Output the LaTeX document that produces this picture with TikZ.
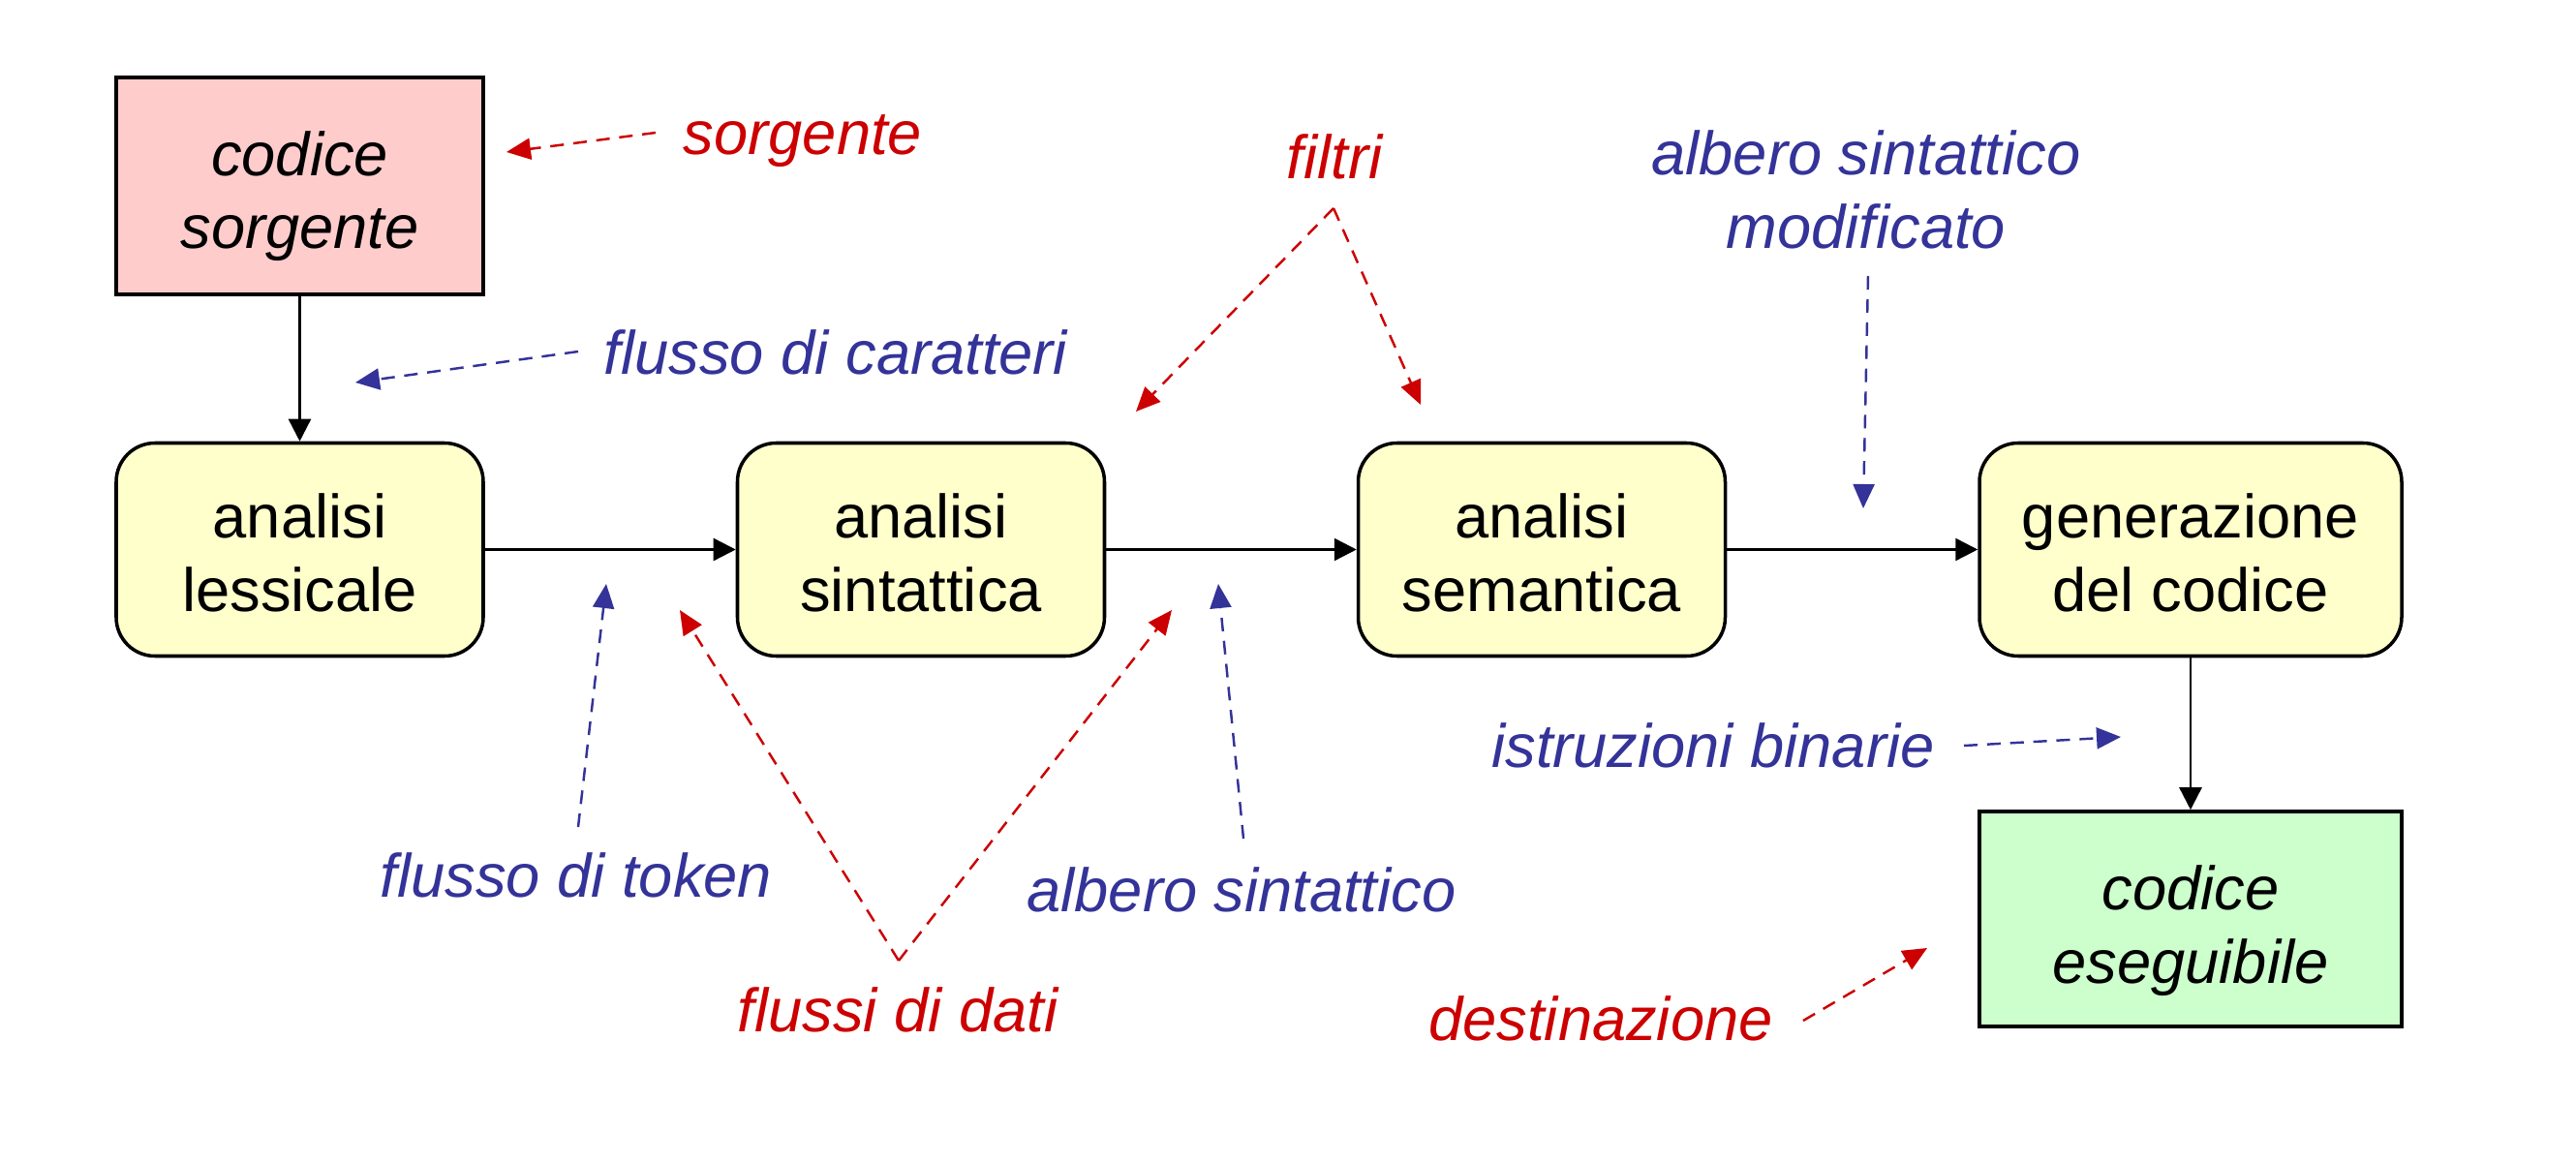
\documentclass[tikz,border=0pt]{standalone}
\usepackage{fontspec}
\setmainfont{Liberation Sans}
\usetikzlibrary{arrows.meta}
\definecolor{rosa}{HTML}{FFCCCC}
\definecolor{giallo}{HTML}{FFFFCC}
\definecolor{verde}{HTML}{CCFFCC}
\definecolor{rosso}{HTML}{CC0000}
\definecolor{blu}{HTML}{333399}
\newcommand\riga[1]{\rule{0pt}{#1pt}}
\begin{document}
\begin{tikzpicture}[
	up/.style={font=\fontsize{18}{21.5}\selectfont},
	it/.style={font=\fontsize{18}{21.5}\selectfont\itshape},
	blk/.style={draw, line width=1pt, minimum width=3.79cm, minimum height=2.2cm, align=center, up},
	fase/.style={blk, rounded corners=0.4cm, fill=giallo},
	file/.style={blk, it},
	flow/.style={line width=0.7pt, -{Triangle[length=0.23cm,width=0.23cm]}},
	rnota/.style={it, text=rosso, anchor=base},
	bnota/.style={it, text=blu, anchor=base},
	rfreccia/.style={rosso, line width=0.7pt, dash pattern=on 4pt off 2.8pt, -{Triangle[length=0.25cm,width=0.22cm]}},
	bfreccia/.style={rfreccia, blu}]
	\useasboundingbox (0,0) rectangle (26.6,12);
	% blocchi
	\node[file, fill=rosa, minimum height=2.24cm] (src) at (3.095,10.08) {\riga{19}codice\\sorgente};
	\node[fase] (lex) at (3.095,6.325) {\riga{15}analisi\\lessicale};
	\node[fase] (syn) at (9.51,6.325) {\riga{15}analisi\\sintattica};
	\node[fase] (sem) at (15.92,6.325) {\riga{15}analisi\\semantica};
	\node[fase, minimum width=4.36cm] (gen) at (22.62,6.325) {\riga{15}generazione\\del codice};
	\node[file, fill=verde, minimum width=4.36cm, minimum height=2.22cm] (exe) at (22.62,2.51) {\riga{20}codice\\eseguibile};
	\draw[flow] (src) -- (lex);
	\draw[flow] (lex) -- (syn);
	\draw[flow] (syn) -- (sem);
	\draw[flow] (sem) -- (gen);
	\draw[flow] (gen) -- (exe);
	% note
	\node[rnota] (sorg) at (8.29,10.40) {sorgente};
	\node[bnota] (car) at (8.63,8.13) {flusso di caratteri};
	\node[rnota] (filtri) at (13.78,10.15) {filtri};
	\node[it, text=blu, align=center] (mod) at (19.27,10.04) {albero sintattico\\modificato};
	\node[bnota] (tok) at (5.95,2.73) {flusso di token};
	\node[rnota] (dati) at (9.27,1.35) {flussi di dati};
	\node[bnota] (albero) at (12.82,2.59) {albero sintattico};
	\node[bnota] (istr) at (17.69,4.07) {istruzioni binarie};
	\node[rnota] (dest) at (16.53,1.26) {destinazione};
	\coordinate (sorg-a) at (6.77,10.63); \coordinate (sorg-b) at (5.23,10.43);
	\coordinate (car-a) at (5.97,8.37); \coordinate (car-b) at (3.67,8.05);
	\coordinate (filtri-a) at (13.77,9.85); \coordinate (filtri-b) at (11.73,7.75); \coordinate (filtri-c) at (14.67,7.82);
	\coordinate (mod-a) at (19.29,9.15); \coordinate (mod-b) at (19.24,6.75);
	\coordinate (tok-a) at (5.97,3.46); \coordinate (tok-b) at (6.26,5.97);
	\coordinate (dati-a) at (9.28,2.08); \coordinate (dati-b) at (7.02,5.70); \coordinate (dati-c) at (12.10,5.70);
	\coordinate (albero-a) at (12.84,3.34); \coordinate (albero-b) at (12.58,5.97);
	\coordinate (istr-a) at (20.28,4.30); \coordinate (istr-b) at (21.90,4.39);
	\coordinate (dest-a) at (18.62,1.46); \coordinate (dest-b) at (19.90,2.21);
	\draw[rfreccia] (sorg-a) -- (sorg-b);
	\draw[bfreccia] (car-a) -- (car-b);
	\draw[rfreccia] (filtri-a) -- (filtri-b);
	\draw[rfreccia] (filtri-a) -- (filtri-c);
	\draw[bfreccia] (mod-a) -- (mod-b);
	\draw[bfreccia] (tok-a) -- (tok-b);
	\draw[rfreccia] (dati-a) -- (dati-b);
	\draw[rfreccia] (dati-a) -- (dati-c);
	\draw[bfreccia] (albero-a) -- (albero-b);
	\draw[bfreccia] (istr-a) -- (istr-b);
	\draw[rfreccia] (dest-a) -- (dest-b);
\end{tikzpicture}
\end{document}
